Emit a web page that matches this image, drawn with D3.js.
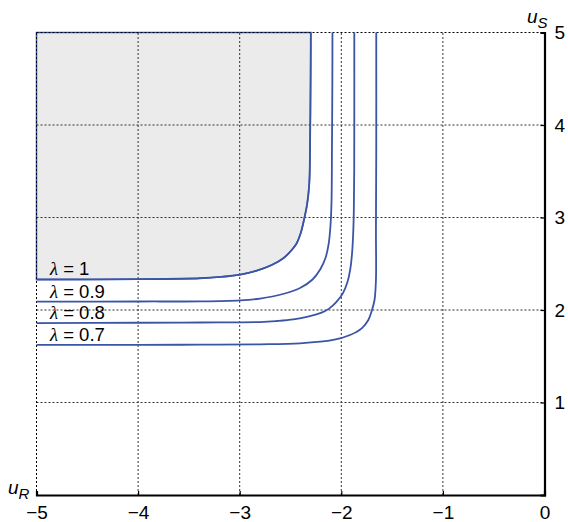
<!DOCTYPE html>
<html><head><meta charset="utf-8">
<script src="https://cdn.jsdelivr.net/npm/d3@7"></script>
<style>html,body{margin:0;padding:0;background:#fff;}</style>
</head><body><div id="chart"></div>
<script>
// x = u_R, y = u_S
const xTicks = [-5, -4, -3, -2, -1, 0];
const yTicks = [0, 1, 2, 3, 4, 5];
const lambdas = ["1", "0.9", "0.8", "0.7"];
const curve1 = [[-5,2.330],[-4,2.333],[-3.39,2.343],[-3.194,2.357],[-2.997,2.382],[-2.833,2.425],[-2.685,2.486],[-2.571,2.559],[-2.488,2.649],[-2.439,2.721],[-2.400,2.829],[-2.364,2.991],[-2.335,3.154],[-2.315,3.370],[-2.308,3.730],[-2.302,4.5],[-2.300,5]];
const curve09 = [[-5,2.090],[-4,2.092],[-3.390,2.094],[-2.997,2.105],[-2.800,2.124],[-2.574,2.173],[-2.406,2.238],[-2.283,2.330],[-2.205,2.443],[-2.156,2.562],[-2.126,2.703],[-2.106,2.919],[-2.096,3.189],[-2.092,3.730],[-2.088,4.5],[-2.087,5]];
const curve08 = [[-5,1.859],[-4,1.862],[-3.39,1.865],[-2.800,1.870],[-2.636,1.881],[-2.472,1.899],[-2.308,1.935],[-2.200,1.968],[-2.120,2.015],[-2.050,2.085],[-1.985,2.180],[-1.940,2.300],[-1.912,2.440],[-1.895,2.600],[-1.884,2.800],[-1.877,3.050],[-1.873,3.500],[-1.872,4.2],[-1.872,5]];
const curve07 = [[-5,1.622],[-4,1.623],[-3.39,1.625],[-2.800,1.629],[-2.406,1.640],[-2.079,1.676],[-1.914,1.730],[-1.799,1.802],[-1.734,1.892],[-1.698,2.000],[-1.673,2.108],[-1.659,2.324],[-1.659,2.865],[-1.656,3.730],[-1.656,5]];
const curves = [curve1, curve09, curve08, curve07];

const W = 568, H = 522;
const x = d3.scaleLinear().domain([-5, 0]).range([36.5, 544.5]);
const y = d3.scaleLinear().domain([0, 5]).range([495, 32.5]);
const svg = d3.select("#chart").append("svg").attr("width", W).attr("height", H)
  .style("font-family", "'Liberation Sans', Arial, sans-serif");

const line = d3.line().x(d => x(d[0])).y(d => y(d[1])).curve(d3.curveCatmullRom.alpha(0.5));
const blue = "#3a55a6";

// gray region (lambda = 1 feasible set)
svg.append("path").attr("d", line(curve1) + "L" + x(-5) + "," + y(5) + "Z")
  .attr("fill", "#ebebeb").attr("stroke", blue).attr("stroke-width", 1.5);

// grid
const grid = svg.append("g").attr("fill", "none").attr("stroke-dasharray", "2,2").attr("stroke-width", 1);
xTicks.slice(1, -1).forEach(t => grid.append("line").attr("x1", x(t)).attr("x2", x(t)).attr("y1", y(0)).attr("y2", y(5)).attr("stroke", "#333"));
yTicks.slice(1, -1).forEach(t => grid.append("line").attr("x1", x(-5)).attr("x2", x(0)).attr("y1", y(t)).attr("y2", y(t)).attr("stroke", "#333"));
grid.append("line").attr("x1", x(-5)).attr("x2", x(0)).attr("y1", y(5)).attr("y2", y(5)).attr("stroke", "#000");
grid.append("line").attr("x1", x(-5)).attr("x2", x(-5)).attr("y1", y(0)).attr("y2", y(5)).attr("stroke", "#000");

// curves
curves.forEach(c => svg.append("path").attr("d", line(c)).attr("fill", "none").attr("stroke", blue).attr("stroke-width", 1.8));

// axes
const xAxis = d3.axisBottom(x).tickValues(xTicks).tickSize(-4).tickPadding(0)
  .tickFormat(d => d < 0 ? "\u2212" + Math.abs(d) : String(d));
const gx = svg.append("g").attr("transform", `translate(0,${y(0)})`).call(xAxis);
const yAxis = d3.axisRight(y).tickValues(yTicks.slice(1)).tickSize(-4).tickPadding(10).tickFormat(d3.format("d"));
const gy = svg.append("g").attr("transform", `translate(${x(0)},0)`).call(yAxis);
[gx, gy].forEach(g => {
  g.select(".domain").attr("stroke", "#000").attr("stroke-width", 2.2);
  g.selectAll(".tick line").attr("stroke", "#000").attr("stroke-width", 1.2);
  g.selectAll("text").attr("fill", "#000").style("font-size", "19px").style("font-family", "'Liberation Sans', Arial, sans-serif");
});
gx.selectAll("text").attr("y", 24).attr("dy", 0);

// axis titles
const t1 = svg.append("text").attr("x", 527).attr("y", 23).style("font-size", "19px").style("font-style", "italic");
t1.append("tspan").text("u");
t1.append("tspan").attr("dy", 5).style("font-size", "15px").text("S");
const t2 = svg.append("text").attr("x", 8).attr("y", 494).style("font-size", "19px").style("font-style", "italic");
t2.append("tspan").text("u");
t2.append("tspan").attr("dy", 5).style("font-size", "15px").text("R");

// lambda labels
curves.forEach((c, i) => {
  const t = svg.append("text").attr("x", 50).attr("y", y(c[0][1]) - 4).style("font-size", "18.5px");
  t.append("tspan").style("font-family", "'Liberation Serif', 'DejaVu Serif', serif").style("font-style", "italic").text("\u03bb");
  t.append("tspan").text(" = " + lambdas[i]);
});
</script></body></html>
